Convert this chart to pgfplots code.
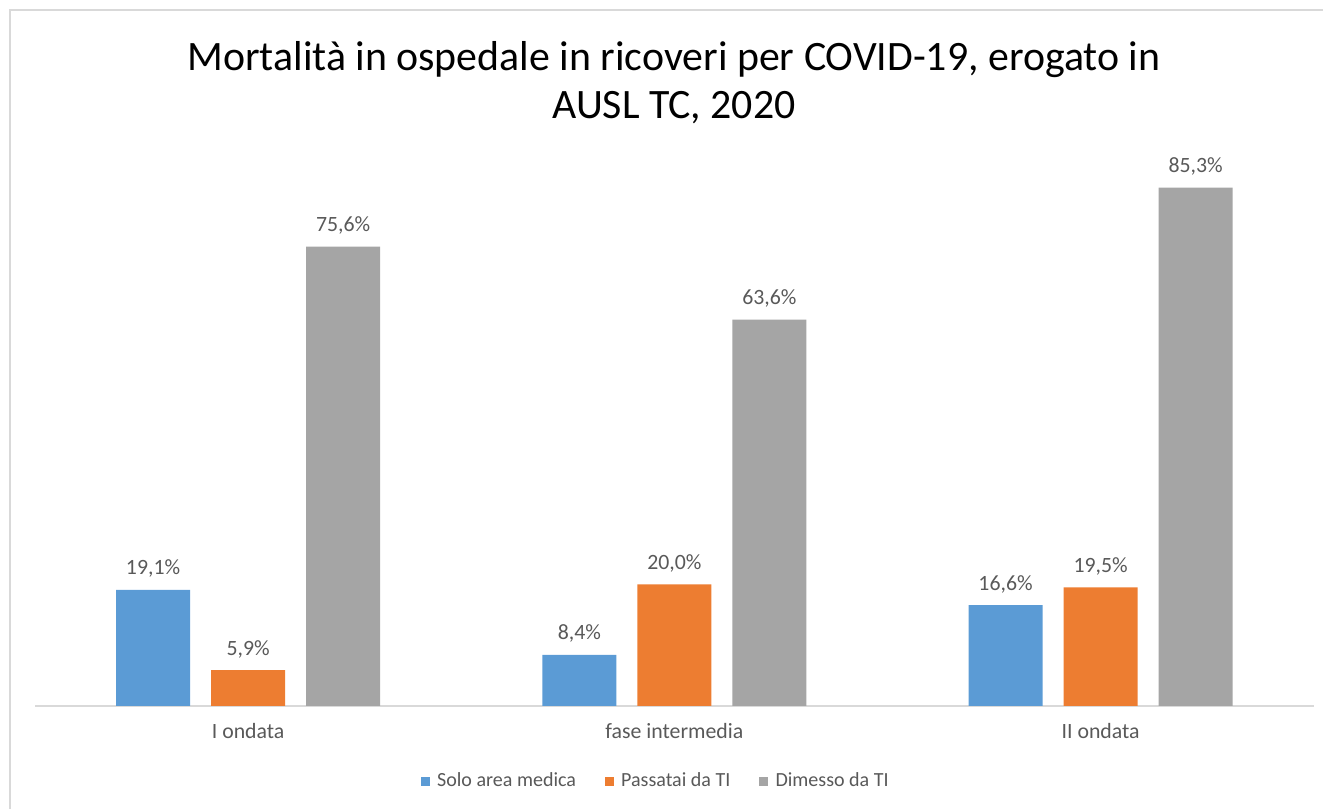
\documentclass[border=0pt]{standalone}
\usepackage{fontspec}
\setmainfont{Carlito}
\usepackage{pgfplots}
\pgfplotsset{compat=1.18}
\definecolor{cblue}{HTML}{5B9BD5}
\definecolor{corange}{HTML}{ED7D31}
\definecolor{cgray}{HTML}{A5A5A5}
\definecolor{labgray}{HTML}{595959}
\definecolor{framegray}{HTML}{D9D9D9}

\begin{document}
\begin{tikzpicture}[x=0.01cm,y=0.01cm]
\useasboundingbox (0,0) rectangle (1323,808);
\draw[framegray, line width=0.025cm] (10,-20) -- (10,798) -- (1340,798);
% title
\node[anchor=base, font=\fontsize{11.9}{13}\selectfont] at (674,738) {Mortalità in ospedale in ricoveri per COVID-19, erogato in};
\node[anchor=base, font=\fontsize{11.9}{13}\selectfont] at (674,690) {AUSL TC, 2020};

\begin{axis}[
    at={(0.35cm,1.02cm)}, anchor=south west,
    scale only axis,
    width=12.78cm, height=5.465cm,
    xmin=-0.5, xmax=2.5, ymin=0, ymax=90,
    ybar=0.21cm, bar width=0.74cm,
    axis y line=none,
    axis x line*=bottom,
    x axis line style={framegray, line width=0.02cm},
    xtick={0,1,2},
    xticklabels={I ondata, fase intermedia, II ondata},
    major tick length=0pt,
    xticklabel style={text=labgray, font=\fontsize{6.2}{7}\selectfont, yshift=-0.05cm},
    nodes near coords={\pgfmathprintnumber[fixed,fixed zerofill,precision=1,use comma]{\pgfplotspointmeta}\%},
    nodes near coords style={anchor=base, yshift=0.15cm, text=labgray, font=\fontsize{6.2}{7}\selectfont, /pgf/number format/assume math mode=true},
    legend columns=3,
    legend style={draw=none, at={(0.4875,-0.139)}, anchor=center,
        font=\fontsize{5.7}{7}\selectfont, text=labgray,
        /tikz/every even column/.append style={column sep=0.22cm}},
    legend image code/.code={\fill[#1] (0cm,-0.045cm) rectangle (0.09cm,0.045cm);},
]
\addplot[fill=cblue, draw=none] coordinates {(0,19.1) (1,8.4) (2,16.6)};
\addplot[fill=corange, draw=none] coordinates {(0,5.9) (1,20.0) (2,19.5)};
\addplot[fill=cgray, draw=none] coordinates {(0,75.6) (1,63.6) (2,85.3)};
\legend{Solo area medica, Passatai da TI, Dimesso da TI}
\end{axis}
\end{tikzpicture}
\end{document}
